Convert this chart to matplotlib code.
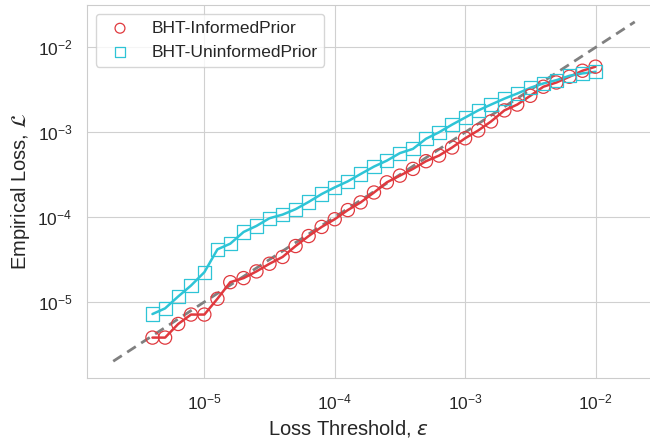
import numpy as np
import matplotlib
matplotlib.use("Agg")
import matplotlib.pyplot as plt
import seaborn as sns

# loss thresholds (x) and empirical losses
thresholds = [4.0e-6, 5.0e-6, 6.3e-6, 7.9e-6, 1.0e-5, 1.26e-5, 1.58e-5, 2.0e-5, 2.51e-5,
              3.16e-5, 3.98e-5, 5.01e-5, 6.31e-5, 7.94e-5, 1.0e-4, 1.26e-4, 1.58e-4,
              2.0e-4, 2.51e-4, 3.16e-4, 3.98e-4, 5.01e-4, 6.31e-4, 7.94e-4, 1.0e-3,
              1.26e-3, 1.58e-3, 2.0e-3, 2.51e-3, 3.16e-3, 3.98e-3, 5.01e-3, 6.31e-3,
              7.94e-3, 1.0e-2]

loss_informed = [3.8e-6, 3.8e-6, 5.5e-6, 7.1e-6, 7.1e-6, 1.09e-5, 1.71e-5, 1.91e-5, 2.29e-5,
                 2.82e-5, 3.39e-5, 4.56e-5, 5.98e-5, 7.66e-5, 9.44e-5, 1.21e-4, 1.49e-4,
                 1.95e-4, 2.57e-4, 3.08e-4, 3.70e-4, 4.56e-4, 5.31e-4, 6.61e-4, 8.49e-4,
                 1.05e-3, 1.34e-3, 1.81e-3, 2.12e-3, 2.69e-3, 3.44e-3, 3.86e-3, 4.51e-3,
                 5.31e-3, 5.93e-3]

loss_uninformed = [7.2e-6, 8.4e-6, 1.16e-5, 1.56e-5, 2.24e-5, 4.17e-5, 4.86e-5, 6.68e-5, 7.87e-5,
                   9.7e-5, 1.07e-4, 1.24e-4, 1.51e-4, 1.87e-4, 2.24e-4, 2.64e-4, 3.22e-4,
                   3.94e-4, 4.63e-4, 5.68e-4, 6.37e-4, 8.38e-4, 1.0e-3, 1.23e-3, 1.49e-3,
                   1.81e-3, 2.12e-3, 2.49e-3, 2.86e-3, 3.34e-3, 3.76e-3, 4.11e-3, 4.63e-3,
                   4.94e-3, 5.16e-3]

# reference line y = x
diag = [2e-6, 2e-2]

red = "#e0393e"
cyan = "#2ec4d6"

sns.set_style("whitegrid")
plt.rcParams['font.family'] = ['Liberation Sans', 'DejaVu Sans']
plt.rcParams['axes.edgecolor'] = '#cccccc'
plt.rcParams['grid.color'] = '#d0d0d0'

fig = plt.figure(figsize=(6.5, 4.42), dpi=100)
ax = fig.add_axes([87 / 650, (442 - 378.3) / 442, 573.7 / 650, 373.3 / 442])

ax.plot(diag, diag, ls=(0, (3.7, 2.3)), color="grey", lw=2, zorder=1)

ax.plot(thresholds, loss_informed, color=red, lw=1.8, zorder=2)
ax.plot(thresholds, loss_uninformed, color=cyan, lw=1.8, zorder=2)
ax.scatter(thresholds, loss_informed, s=90, facecolors="none", edgecolors=red,
           linewidths=0.9, label="BHT-InformedPrior", zorder=3)
ax.scatter(thresholds, loss_uninformed, s=90, marker="s", facecolors="none", edgecolors=cyan,
           linewidths=0.9, label="BHT-UninformedPrior", zorder=3)

ax.set_xscale("log")
ax.set_yscale("log")
ax.set_xlim(10 ** -5.9, 10 ** -1.5)
ax.set_ylim(10 ** -5.9, 10 ** -1.5)
ax.minorticks_off()

ax.tick_params(labelsize=12.5, pad=7)
ax.set_xlabel(r"Loss Threshold, $\varepsilon$", fontsize=14.5, labelpad=4)
ax.set_ylabel(r"Empirical Loss, $\mathcal{L}$", fontsize=14.5, labelpad=4)
ax.xaxis.label.set_x(0.456)

ax.legend(loc="upper left", fontsize=12.5, markerscale=0.75)

fig.savefig("out.png", dpi=100)
